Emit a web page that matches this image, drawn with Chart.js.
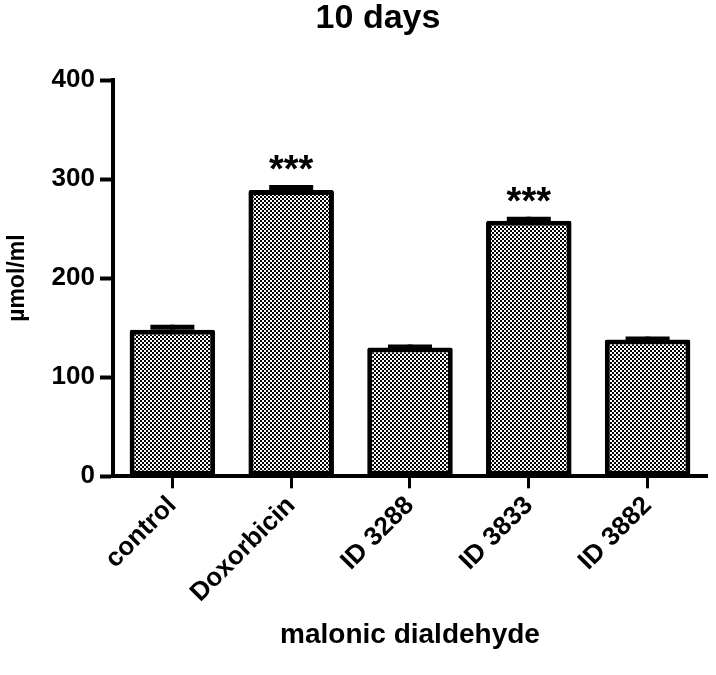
<!DOCTYPE html>
<html>
<head>
<meta charset="utf-8">
<script src="https://cdn.jsdelivr.net/npm/chart.js@4.4.0/dist/chart.umd.min.js"></script>
<style>
  html, body { margin: 0; padding: 0; background: #fff; }
  #wrap { width: 716px; height: 675px; }
</style>
</head>
<body>
<div id="wrap"><canvas id="grafica" width="716" height="675"></canvas></div>
<script>
// datos
const grupos = ["control", "Doxorbicin", "ID 3288", "ID 3833", "ID 3882"];
const medias = [148, 289, 130, 258, 138];
const errores = [5, 5, 3, 4, 3];
const marcas = ["", "***", "", "***", ""];
const yTicks = [0, 100, 200, 300, 400];

const FONT = "'Liberation Sans', Arial, sans-serif";

// patron de cuadritos
function patron() {
    const c = document.createElement("canvas");
    c.width = 4; c.height = 4;
    const g = c.getContext("2d");
    g.fillStyle = "#fff";
    g.fillRect(0, 0, 4, 4);
    g.fillStyle = "#000";
    g.fillRect(0, 0, 2, 2);
    g.fillRect(2, 2, 2, 2);
    return g.createPattern(c, "repeat");
}

const ctx = document.getElementById("grafica").getContext("2d");

// barras de error, asteriscos y titulo
const extras = {
    id: "extras",
    afterDatasetsDraw(chart) {
        const g = chart.ctx;
        const y = chart.scales.y;
        const meta = chart.getDatasetMeta(0);
        g.save();
        g.strokeStyle = "#000";
        g.fillStyle = "#000";
        meta.data.forEach((bar, i) => {
            const top = y.getPixelForValue(medias[i] + errores[i]);
            const base = y.getPixelForValue(medias[i]);
            g.lineWidth = 5;
            g.beginPath();
            g.moveTo(bar.x, base);
            g.lineTo(bar.x, top);
            g.stroke();
            g.beginPath();
            g.moveTo(bar.x - 22, top + 2.5);
            g.lineTo(bar.x + 22, top + 2.5);
            g.stroke();
            if (marcas[i]) {
                g.font = "bold 38px " + FONT;
                g.textAlign = "center";
                g.textBaseline = "alphabetic";
                g.fillText(marcas[i], bar.x, top - 3);
            }
        });
        g.font = "bold 34px " + FONT;
        g.textAlign = "center";
        g.textBaseline = "alphabetic";
        g.fillText("10 days", 378, 28);
        g.restore();
    }
};

const chart = new Chart(ctx, {
    type: "bar",
    data: {
        labels: grupos,
        datasets: [{
            data: medias,
            backgroundColor: patron(),
            borderColor: "#000",
            borderWidth: 5,
            borderSkipped: false,
            borderRadius: 2,
            barPercentage: 0.72,
            categoryPercentage: 1.0
        }]
    },
    options: {
        responsive: false,
        animation: false,
        layout: { padding: { top: 80, right: 9, left: 4, bottom: 23 } },
        plugins: {
            legend: { display: false },
            tooltip: { enabled: false }
        },
        scales: {
            x: {
                grid: { display: true, drawOnChartArea: false, offset: false, color: "#000", tickLength: 12, tickWidth: 3 },
                border: { display: true, color: "#000", width: 4 },
                ticks: {
                    color: "#000",
                    font: { family: FONT, size: 26, weight: "bold" },
                    minRotation: 45, maxRotation: 45, padding: 2
                },
                title: {
                    display: true, text: "malonic dialdehyde", color: "#000",
                    font: { family: FONT, size: 28, weight: "bold" },
                    padding: { top: 8, bottom: 0 }
                }
            },
            y: {
                min: 0, max: 400,
                afterBuildTicks(s) { s.ticks = yTicks.map(v => ({ value: v })); },
                grid: { display: true, drawOnChartArea: false, color: "#000", tickLength: 13, tickWidth: 4 },
                border: { display: true, color: "#000", width: 4 },
                ticks: {
                    color: "#000",
                    font: { family: FONT, size: 26, weight: "bold" },
                    padding: 5
                },
                title: {
                    display: true, text: "µmol/ml", color: "#000",
                    font: { family: FONT, size: 23, weight: "bold" },
                    padding: { top: 0, bottom: 15 }
                }
            }
        }
    },
    plugins: [extras]
});
</script>
</body>
</html>
